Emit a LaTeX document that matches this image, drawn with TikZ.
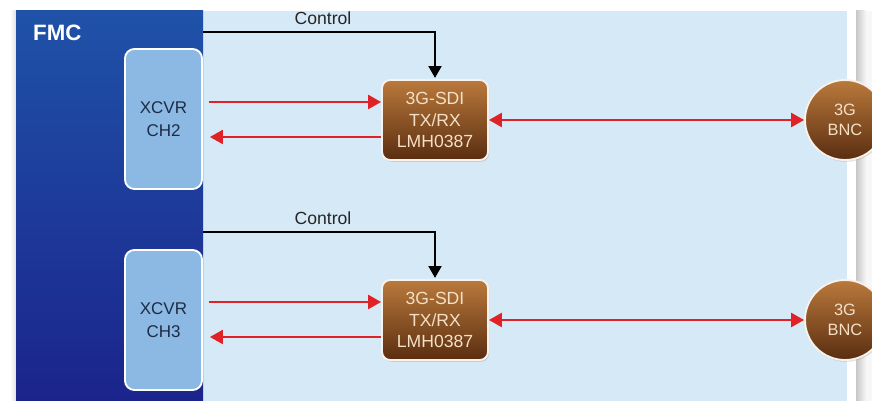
\documentclass[tikz,border=0pt]{standalone}
\usepackage{fontspec}
\setmainfont{Liberation Sans}
\usetikzlibrary{shadows,arrows.meta}
\definecolor{fmcblueT}{HTML}{1F52A8}
\definecolor{fmcblueB}{HTML}{1B248C}
\definecolor{bgblue}{HTML}{D5E9F7}
\definecolor{xcvrfill}{HTML}{8BB9E3}
\definecolor{xcvrtext}{HTML}{1D2B45}
\definecolor{brownT}{HTML}{BA7A3C}
\definecolor{brownB}{HTML}{5A2D10}
\definecolor{browntext}{HTML}{F4E0C6}
\definecolor{arrred}{HTML}{E02226}
\tikzset{
  xcvrbox/.style={draw=white, line width=1.6pt, fill=xcvrfill, rounded corners=8pt,
    minimum width=2.31cm, minimum height=4.2cm, align=center, text=xcvrtext,
    font=\fontsize{14.5}{20}\selectfont, inner sep=0pt},
  sdibox/.style={draw=white!90!brown, line width=1.6pt, top color=brownT, bottom color=brownB,
    rounded corners=7pt, minimum width=3.18cm, minimum height=2.4cm, align=center,
    text=browntext, font=\fontsize{15}{18}\selectfont, inner sep=0pt,
    drop shadow={opacity=0.25, shadow xshift=1pt, shadow yshift=-1.5pt}},
  bncbox/.style={circle, draw=white!90!brown, line width=1.6pt, top color=brownT, bottom color=brownB,
    minimum size=2.4cm, align=center, text=browntext,
    font=\fontsize{14}{17}\selectfont, inner sep=0pt,
    drop shadow={opacity=0.25, shadow xshift=1pt, shadow yshift=-1.5pt}},
  redline/.style={draw=arrred, line width=1.7pt, -{Triangle[length=11pt,width=12pt]}},
  redboth/.style={draw=arrred, line width=1.7pt, {Triangle[length=11pt,width=12pt]}-{Triangle[length=11pt,width=12pt]}},
  ctlline/.style={draw=black, line width=1.6pt, -{Triangle[length=10pt,width=11pt]}},
  ctllabel/.style={font=\fontsize{15}{17}\selectfont, text=black!85, inner sep=0pt}
}
\begin{document}
\begin{tikzpicture}[x=0.03cm, y=-0.03cm]
\useasboundingbox (0,0) rectangle (872,401);
\clip (0,0) rectangle (872,401);
% page background
\fill[white] (0,0) rectangle (872,401);
\fill[bgblue] (203,11) rectangle (847,401);
% right strip
\shade[left color=black!22, right color=black!3] (856,11) rectangle (866,401);
\fill[black!3] (866,11) rectangle (872,401);
% left shadow
\shade[left color=white, right color=black!12] (10,11) rectangle (16,401);
% FMC panel
\shade[top color=fmcblueT, bottom color=fmcblueB] (16,11) rectangle (203,401);
\node[font=\bfseries\fontsize{19}{21}\selectfont, text=white, anchor=west, inner sep=0pt] (fmclabel) at (33,33) {FMC};

% channel 2
\node[xcvrbox] (x2) at (163.5,119) {XCVR\\CH2};
\node[sdibox] (s2) at (435,120) {3G-SDI\\TX/RX\\LMH0387};
\node[bncbox] (b2) at (845,120) {3G\\BNC};
\coordinate (c2) at (203,32);
\draw[ctlline] (c2) -| ([yshift=1pt]s2.north);
\node[ctllabel] (l2) at (323,18) {Control};
\draw[redline] ([xshift=5pt]x2.east |- 0,102) -- (s2.west |- 0,102);
\draw[redline] (s2.west |- 0,137) -- ([xshift=6pt]x2.east |- 0,137);
\draw[redboth] (s2.east |- 0,120) -- (b2.west);

% channel 3
\node[xcvrbox] (x3) at (163.5,320) {XCVR\\CH3};
\node[sdibox] (s3) at (435,320) {3G-SDI\\TX/RX\\LMH0387};
\node[bncbox] (b3) at (845,320) {3G\\BNC};
\coordinate (c3) at (203,232);
\draw[ctlline] (c3) -| ([yshift=1pt]s3.north);
\node[ctllabel] (l3) at (323,218) {Control};
\draw[redline] ([xshift=5pt]x3.east |- 0,302) -- (s3.west |- 0,302);
\draw[redline] (s3.west |- 0,337) -- ([xshift=6pt]x3.east |- 0,337);
\draw[redboth] (s3.east |- 0,320) -- (b3.west);
\end{tikzpicture}
\end{document}
